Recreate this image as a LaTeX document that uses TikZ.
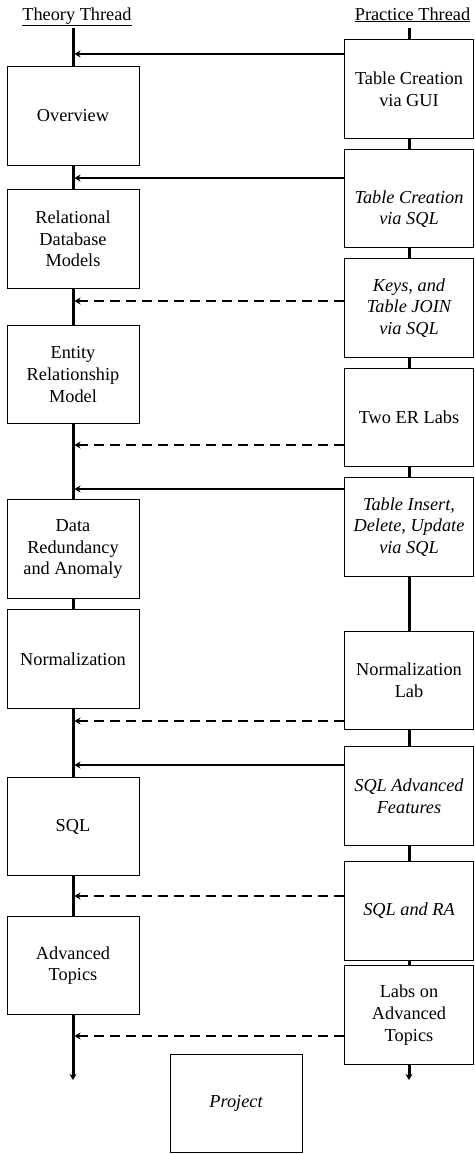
\documentclass[tikz,border=0pt]{standalone}
\usepackage{fontspec}
\setmainfont{Liberation Serif}
\usetikzlibrary{arrows.meta}
\begin{document}
\begin{tikzpicture}[x=1pt,y=-1pt,
  box/.style={draw,line width=1pt,fill=white,align=center,inner sep=0pt,font=\fontsize{18.3}{21.7}\selectfont},
  lbox/.style={box,minimum width=132pt,minimum height=98.5pt},
  rbox/.style={box,minimum width=129pt,minimum height=98.5pt},
  thread/.style={line width=3pt,-{Stealth[length=6pt,width=7pt]}},
  feed/.style={line width=2pt,-{Stealth[length=6pt,width=7pt]}},
  feedd/.style={feed,dash pattern=on 10pt off 6pt},
  title/.style={font=\fontsize{18.3}{21.7}\selectfont,anchor=base,inner sep=0pt}
]
\useasboundingbox (0,0) rectangle (474,1154);
% titles
\node[title] (tt) at (77,20) {\underline{Theory Thread}};
\node[title] (pt) at (412.5,20) {\underline{Practice Thread}};
% threads
\coordinate (lt) at (73,28);
\coordinate (lb) at (73,1080);
\coordinate (rt) at (409,28);
\coordinate (rb) at (409,1080);
\draw[thread] (lt) -- (lb);
\draw[thread] (rt) -- (rb);
% theory boxes
\node[lbox] (o1) at (73,116) {Overview};
\node[lbox] (o2) at (73,239) {Relational\\Database\\Models};
\node[lbox] (o3) at (73,374.5) {Entity\\Relationship\\Model};
\node[lbox] (o4) at (73,549) {Data\\Redundancy\\and Anomaly};
\node[lbox] (o5) at (73,659) {Normalization};
\node[lbox] (o6) at (73,826.5) {SQL};
\node[lbox] (o7) at (73,965.5) {Advanced\\Topics};
\node[lbox] (proj) at (236,1103.5) {\itshape Project};
% practice boxes
\node[rbox] (r1) at (409,89) {Table Creation\\via GUI};
\node[rbox] (r2) at (409,198.5) {\vphantom{T}\\\itshape Table Creation\\\itshape via SQL};
\node[rbox] (r3) at (409,308) {\itshape Keys, and\\\itshape Table JOIN\\\itshape via SQL};
\node[rbox] (r4) at (409,417.5) {Two ER Labs};
\node[rbox] (r5) at (409,527) {\itshape Table Insert,\\\itshape Delete, Update\\\itshape via SQL};
\node[rbox] (r6) at (409,680.5) {Normalization\\Lab};
\node[rbox] (r7) at (409,796) {\itshape SQL Advanced\\\itshape Features};
\node[rbox] (r8) at (409,911) {\itshape SQL and RA};
\node[rbox] (r9) at (409,1015) {Labs on\\Advanced\\Topics};
% feed points on theory thread
\coordinate (a1) at (74.5,54);
\coordinate (a2) at (74.5,178);
\coordinate (a3) at (74.5,301);
\coordinate (a4) at (74.5,445);
\coordinate (a5) at (74.5,489);
\coordinate (a6) at (74.5,721);
\coordinate (a7) at (74.5,765);
\coordinate (a8) at (74.5,896);
\coordinate (a9) at (74.5,1036);
\draw[feed]  (r1.west |- a1) -- (a1);
\draw[feed]  (r2.west |- a2) -- (a2);
\draw[feedd] (r3.west |- a3) -- (a3);
\draw[feedd] (r4.west |- a4) -- (a4);
\draw[feed]  (r5.west |- a5) -- (a5);
\draw[feedd] (r6.west |- a6) -- (a6);
\draw[feed]  (r7.west |- a7) -- (a7);
\draw[feedd] (r8.west |- a8) -- (a8);
\draw[feedd] (r9.west |- a9) -- (a9);
\end{tikzpicture}
\end{document}
